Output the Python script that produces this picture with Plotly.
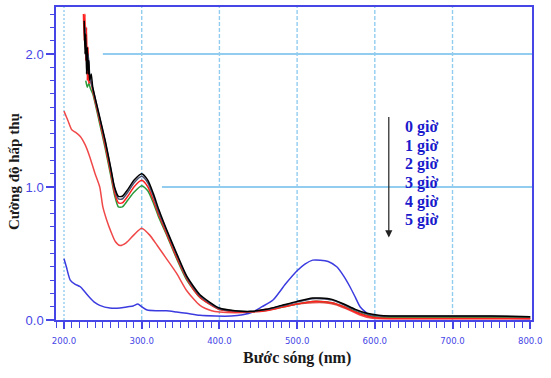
import plotly.graph_objects as go

# ---- data (wavelength nm, absorbance) ----
wl_black = [226, 227, 228, 229, 230, 231, 232, 233, 235, 237, 245, 253, 260, 265, 270, 275, 282, 290, 300, 308, 315, 322, 332, 345, 358, 375, 400, 420, 440, 460, 480, 500, 520, 530, 545, 560, 575, 590, 605, 620, 650, 700, 750, 800]
abs_black = [2.25, 2.0, 2.15, 1.85, 2.05, 1.85, 1.95, 1.8, 1.85, 1.75, 1.55, 1.35, 1.15, 1.0, 0.93, 0.93, 0.98, 1.05, 1.10, 1.05, 0.95, 0.83, 0.68, 0.50, 0.33, 0.19, 0.09, 0.07, 0.065, 0.08, 0.11, 0.14, 0.165, 0.165, 0.155, 0.12, 0.08, 0.05, 0.035, 0.03, 0.03, 0.03, 0.03, 0.025]

wl_gray = [227, 229, 231, 233, 235, 237, 245, 253, 260, 265, 270, 275, 282, 290, 300, 308, 315, 322, 332, 345, 358, 375, 400, 420, 440, 460, 480, 500, 520, 530, 545, 560, 575, 590, 605, 620, 650, 700, 750, 800]
abs_gray = [2.2, 1.95, 2.0, 1.85, 1.78, 1.74, 1.54, 1.34, 1.14, 0.99, 0.91, 0.91, 0.96, 1.03, 1.08, 1.03, 0.93, 0.81, 0.67, 0.49, 0.32, 0.18, 0.085, 0.068, 0.063, 0.078, 0.105, 0.135, 0.16, 0.16, 0.15, 0.115, 0.075, 0.045, 0.03, 0.028, 0.028, 0.028, 0.028, 0.025]

wl_red = [225, 226, 227, 228, 229, 230, 231, 232, 234, 237, 245, 253, 260, 265, 270, 275, 282, 290, 300, 308, 315, 322, 332, 345, 358, 375, 400, 420, 440, 460, 480, 500, 520, 530, 545, 560, 575, 590, 605, 620, 650, 700, 750, 800]
abs_red = [2.3, 2.1, 2.3, 1.95, 2.2, 1.8, 2.05, 1.78, 1.8, 1.72, 1.52, 1.31, 1.11, 0.96, 0.88, 0.88, 0.93, 1.0, 1.05, 1.0, 0.9, 0.79, 0.65, 0.47, 0.31, 0.17, 0.08, 0.062, 0.06, 0.07, 0.095, 0.12, 0.14, 0.14, 0.13, 0.1, 0.06, 0.03, 0.015, 0.012, 0.012, 0.012, 0.012, 0.012]

wl_green = [228, 230, 232, 234, 237, 245, 253, 260, 265, 270, 275, 282, 290, 300, 308, 315, 322, 332, 345, 358, 375, 400, 420, 440, 460, 480, 500, 520, 530, 545, 560, 575, 590, 605, 620, 650, 700, 750, 800]
abs_green = [1.8, 1.75, 1.78, 1.74, 1.70, 1.5, 1.29, 1.09, 0.94, 0.85, 0.85, 0.9, 0.96, 1.01, 0.97, 0.88, 0.77, 0.64, 0.46, 0.3, 0.17, 0.08, 0.065, 0.062, 0.072, 0.095, 0.12, 0.14, 0.14, 0.13, 0.1, 0.065, 0.035, 0.02, 0.018, 0.018, 0.018, 0.018, 0.018]

wl_red2 = [200, 205, 210, 215, 221, 227, 233, 240, 246, 250, 255, 260, 266, 272, 280, 290, 300, 310, 320, 332, 345, 358, 375, 390, 400, 420, 440, 460, 480, 500, 520, 535, 550, 565, 580, 595, 610, 650, 700, 750, 800]
abs_red2 = [1.57, 1.5, 1.43, 1.41, 1.38, 1.32, 1.23, 1.1, 1.0, 0.85, 0.75, 0.67, 0.59, 0.56, 0.58, 0.64, 0.69, 0.64, 0.56, 0.46, 0.35, 0.22, 0.11, 0.07, 0.06, 0.055, 0.06, 0.08, 0.1, 0.12, 0.13, 0.13, 0.115, 0.08, 0.04, 0.015, 0.01, 0.01, 0.01, 0.01, 0.01]

wl_blue = [200, 203, 208, 214, 221, 227, 233, 240, 246, 259, 272, 282, 289, 295, 300, 307, 320, 332, 345, 358, 375, 395, 415, 430, 443, 455, 469, 485, 500, 510, 520, 530, 540, 551, 560, 568, 575, 581, 590, 598, 610, 650, 700, 750, 800]
abs_blue = [0.46, 0.4, 0.3, 0.27, 0.25, 0.21, 0.17, 0.13, 0.11, 0.09, 0.09, 0.1, 0.105, 0.12, 0.1, 0.075, 0.07, 0.07, 0.06, 0.05, 0.035, 0.03, 0.03, 0.04, 0.06, 0.1, 0.15, 0.27, 0.37, 0.42, 0.45, 0.45, 0.44, 0.4, 0.33, 0.25, 0.17, 0.1, 0.05, 0.02, 0.015, 0.015, 0.015, 0.015, 0.01]

series_names = ["0 giờ", "1 giờ", "2 giờ", "3 giờ", "4 giờ", "5 giờ"]
legend_lines = series_names
x_ticks = [200, 300, 400, 500, 600, 700, 800]
y_ticks = [0.0, 1.0, 2.0]
# where the horizontal grid lines start (nm), as drawn in the original
y_grid_levels = [1.0, 2.0]
y_grid_starts = [326, 250]

series = [
    (wl_blue, abs_blue, "#3b3be0"),
    (wl_red2, abs_red2, "#f04848"),
    (wl_green, abs_green, "#2a9a3a"),
    (wl_red, abs_red, "#ff2020"),
    (wl_gray, abs_gray, "#4a5070"),
    (wl_black, abs_black, "#000000"),
]

X_RANGE = [189.7, 802.3]
Y_RANGE = [0, 2.353]
axis_blue = "#4646e6"
grid_blue = "#92cdf0"

fig = go.Figure()

# grid lines (under the data)
for xv in x_ticks[:-1]:
    fig.add_shape(type="line", xref="x", yref="y", x0=xv, x1=xv, y0=Y_RANGE[0], y1=Y_RANGE[1],
                  line=dict(color=grid_blue, width=1.4, dash="2px,2px" if xv == x_ticks[0] else "4px,2px"),
                  layer="below")
for yv, xs0 in zip(y_grid_levels, y_grid_starts):
    fig.add_shape(type="line", xref="x", yref="y", x0=xs0, x1=X_RANGE[1], y0=yv, y1=yv,
                  line=dict(color=grid_blue, width=2), layer="below")

for (xs, ys, col), name in zip(series, series_names[::-1]):
    fig.add_trace(go.Scatter(x=xs, y=ys, mode="lines", name=name,
                             line=dict(color=col, width=1.5, shape="spline", smoothing=0.6),
                             showlegend=False))

fig.update_layout(
    width=551, height=378,
    margin=dict(l=56, r=19, t=7, b=58),
    paper_bgcolor="white", plot_bgcolor="white",
    xaxis=dict(range=X_RANGE, tickvals=x_ticks, tickformat=".1f", automargin=False,
               showline=True, linecolor=axis_blue, linewidth=1.5, mirror=True,
               ticks="outside", ticklen=7, tickcolor=axis_blue, tickwidth=1.5,
               minor=dict(dtick=10, ticks="outside", ticklen=6, tickcolor=axis_blue, tickwidth=1.2, showgrid=False),
               showgrid=False, zeroline=False, ticklabelstandoff=4,
               tickfont=dict(family="DejaVu Sans Condensed, Liberation Sans Narrow, Liberation Sans", size=9.5, color=axis_blue)),
    yaxis=dict(range=Y_RANGE, tickvals=y_ticks, tickformat=".1f", automargin=False,
               showline=True, linecolor=axis_blue, linewidth=1.5, mirror=True,
               ticks="outside", ticklen=8, tickcolor=axis_blue, tickwidth=1.5,
               minor=dict(dtick=0.1, ticks="outside", ticklen=4, tickcolor=axis_blue, tickwidth=1.2, showgrid=False),
               showgrid=False, zeroline=False,
               tickfont=dict(family="Liberation Sans, Arial", size=13, color=axis_blue)),
)

# axis titles
fig.add_annotation(xref="paper", yref="paper", x=-0.088, y=0.473, xanchor="center", yanchor="middle",
                   text="<b>Cường độ hấp thụ</b>", textangle=-90, showarrow=False,
                   font=dict(family="Liberation Serif, Times New Roman", size=15, color="#1a1a1a"))
fig.add_annotation(xref="paper", yref="paper", x=0.506, y=-0.123, xanchor="center", yanchor="middle",
                   text="<b>Bước sóng (nm)</b>", showarrow=False,
                   font=dict(family="Liberation Serif, Times New Roman", size=16, color="#1a1a1a"))

# arrow
fig.add_annotation(x=618, y=0.62, xref="x", yref="y", ax=0, ay=-122, axref="pixel", ayref="pixel",
                   showarrow=True, arrowhead=2, arrowsize=1.2, arrowwidth=1.2, arrowcolor="#222222", text="")

# legend text, one line each
for i, t in enumerate(legend_lines):
    fig.add_annotation(x=636, y=1.45 - i * 0.14, xref="x", yref="y", xanchor="left", yanchor="middle",
                       text=f"<b>{t}</b>", showarrow=False,
                       font=dict(family="Liberation Serif, Times New Roman", size=16, color="#1a1acc"))

fig.write_html("out.html", config={"displayModeBar": False},
               post_script="document.body.style.margin='0';document.body.style.padding='0';")
